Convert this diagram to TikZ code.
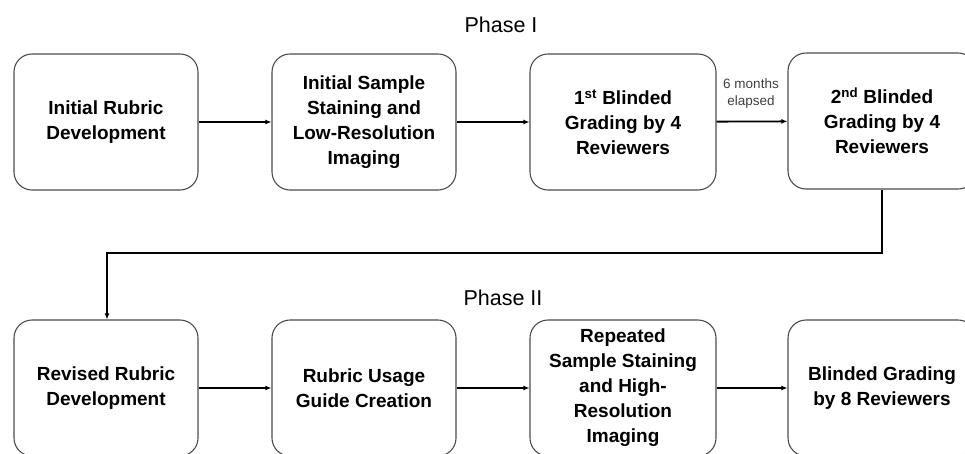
\documentclass[tikz,border=0pt]{standalone}
\usepackage{fontspec}
\setmainfont{Liberation Sans}
\usetikzlibrary{arrows.meta}
\begin{document}
\begin{tikzpicture}[x=1pt,y=-1pt,
  stepbox/.style={draw=black!70, line width=1.1pt, rounded corners=18pt, minimum height=136pt, align=center, font=\bfseries\fontsize{19}{25}\selectfont, inner sep=2pt},
  arr/.style={draw=black, line width=1.8pt, -{Latex[length=6pt,width=5pt]}},
  phase/.style={font=\fontsize{21.5}{24}\selectfont}]
\useasboundingbox (0,0) rectangle (965,453);
\node[phase] (p1) at (501,25) {Phase I};
\node[phase] (p2) at (503,298) {Phase II};
\node[stepbox, minimum width=184pt] (b1) at (106,122) {Initial Rubric\\Development};
\node[stepbox, minimum width=184pt] (b2) at (364,122) {Initial Sample\\Staining and\\Low-Resolution\\Imaging};
\node[stepbox, minimum width=186pt] (b3) at (623,122) {1\textsuperscript{st} Blinded\\Grading by 4\\Reviewers};
\node[stepbox, minimum width=188pt] (b4) at (882,121) {2\textsuperscript{nd} Blinded\\Grading by 4\\Reviewers};
\node[stepbox, minimum width=184pt] (b5) at (106,388) {Revised Rubric\\Development};
\node[stepbox, minimum width=184pt] (b6) at (364,388) {Rubric Usage\\Guide Creation};
\node[stepbox, minimum width=186pt] (b7) at (623,388) {Repeated\\Sample Staining\\and High-\\Resolution\\Imaging};
\node[stepbox, minimum width=188pt] (b8) at (882,388) {Blinded Grading\\by 8 Reviewers};
\node[align=center, text=black!75, font=\fontsize{13.5}{17}\selectfont] (lab) at (751,94) {6 months\\elapsed};
\draw[arr] (b1) -- (b2);
\draw[arr] (b2) -- (b3);
\draw[arr] (b3) -- (b4);
\draw[arr] (b5) -- (b6);
\draw[arr] (b6) -- (b7);
\draw[arr] (b7) -- (b8);
\coordinate (c1) at (882,253);
\coordinate (c2) at (107,253);
\draw[arr] (b4.south) -- (c1) -- (c2) -- (b5.north -| c2);
\end{tikzpicture}
\end{document}
